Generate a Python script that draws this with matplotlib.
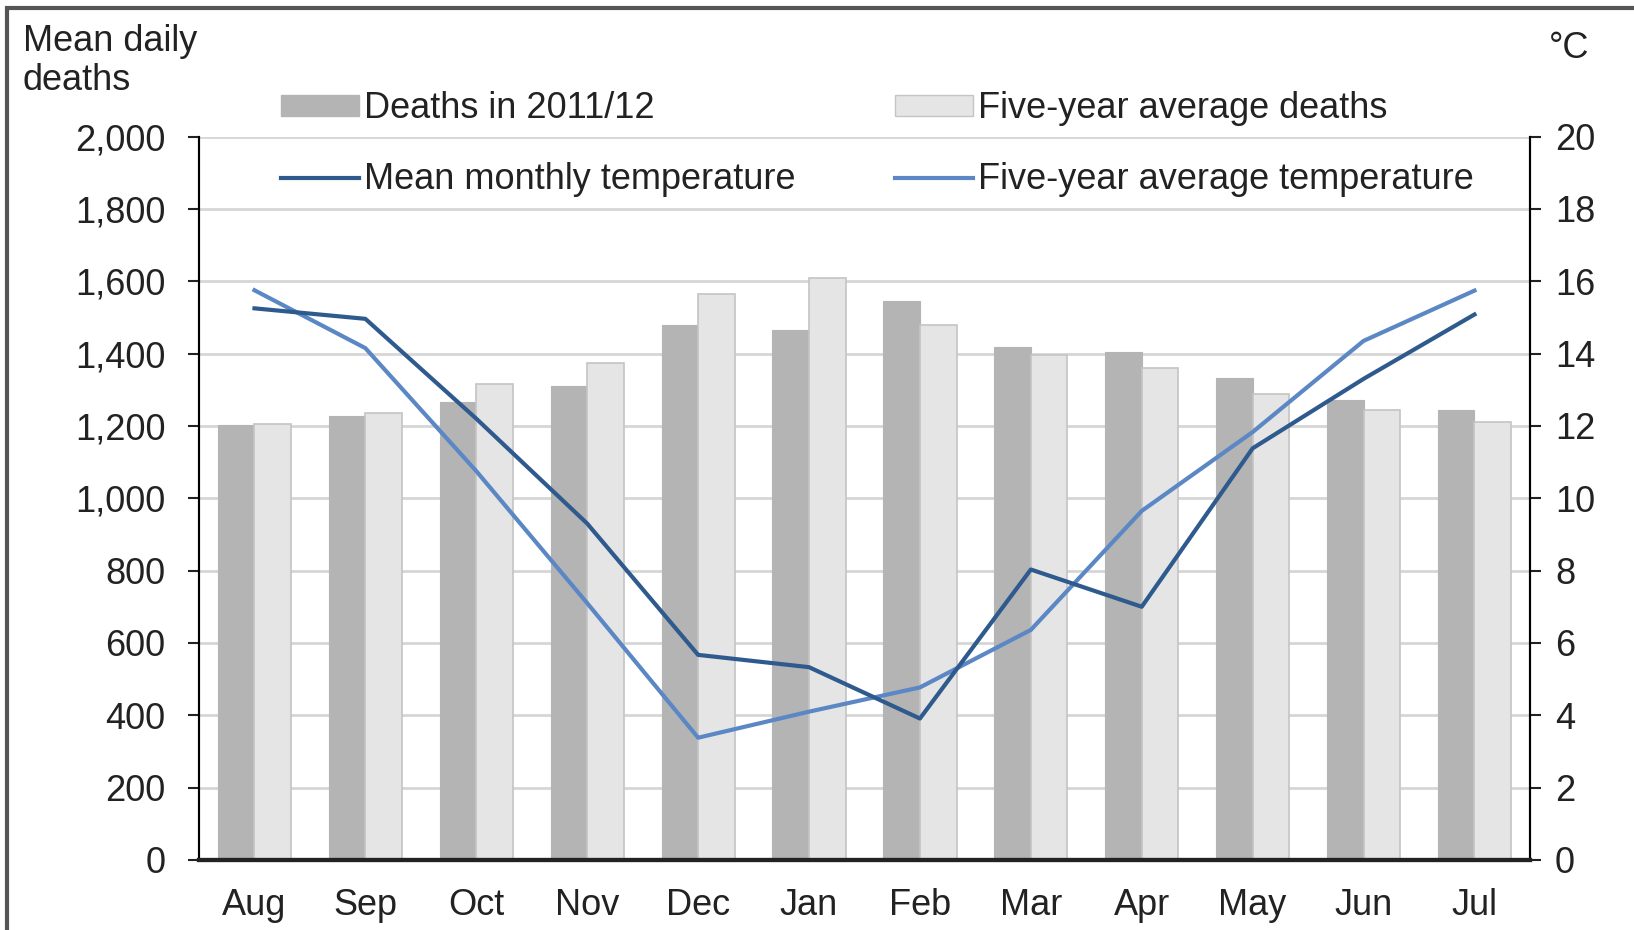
import numpy as np
import matplotlib.pyplot as plt
from matplotlib.patches import Rectangle
from matplotlib.lines import Line2D

months = ["Aug", "Sep", "Oct", "Nov", "Dec", "Jan", "Feb", "Mar", "Apr", "May", "Jun", "Jul"]
deaths_2011 = [1202, 1228, 1267, 1310, 1479, 1465, 1545, 1419, 1403, 1332, 1271, 1244]
deaths_avg = [1205, 1235, 1315, 1373, 1566, 1608, 1479, 1396, 1361, 1288, 1244, 1212]
temp_month = [15.25, 14.96, 12.2, 9.3, 5.67, 5.33, 3.91, 8.03, 7.0, 11.38, 13.3, 15.08]
temp_avg = [15.75, 14.15, 10.75, 7.1, 3.38, 4.1, 4.77, 6.36, 9.65, 11.83, 14.35, 15.74]

plt.rcParams["font.family"] = ["Liberation Sans", "DejaVu Sans"]
fs = 26

fig = plt.figure(figsize=(16.34, 9.3), dpi=100)
ax = fig.add_axes([0.1218, 0.0753, 0.8145, 0.7779])
ax2 = ax.twinx()

x = np.arange(len(months))
w = 0.33
ax.bar(x - w / 2, deaths_2011, w, color="#b4b4b4", edgecolor="#b4b4b4", lw=0.8, zorder=2)
ax.bar(x + w / 2, deaths_avg, w, color="#e4e5e4", edgecolor="#c4c4c4", lw=1.2, zorder=2)

ax2.plot(x, temp_avg, color="#5b88c4", lw=3, zorder=3)
ax2.plot(x, temp_month, color="#2f5a8e", lw=3, zorder=4)

ax.set_xlim(-0.5, 11.5)
ax.set_ylim(0, 2000)
ax.set_yticks(range(0, 2001, 200))
ax.set_yticklabels([f"{v:,}" for v in range(0, 2001, 200)])
ax.yaxis.grid(True, color="#d6d6d6", lw=2)
ax.set_axisbelow(True)
ax.set_xticks(x)
ax.set_xticklabels(months)
ax.tick_params(axis="x", length=0, pad=20, labelsize=fs, colors="#222222")
ax.tick_params(axis="y", direction="out", length=8, width=1.5, pad=16, labelsize=fs, colors="#222222")

ax2.set_ylim(0, 20)
ax2.set_yticks(range(0, 21, 2))
ax2.tick_params(axis="y", direction="out", length=8, width=1.5, pad=10, labelsize=fs, colors="#222222")

for a in (ax, ax2):
    a.spines["top"].set_visible(False)
    a.spines["left"].set_linewidth(1.5)
    a.spines["right"].set_linewidth(1.5)
    a.spines["bottom"].set_linewidth(3)
    a.spines["bottom"].set_color("#222222")

fig.text(0.014, 0.974, "Mean daily\ndeaths", fontsize=fs, va="top", ha="left",
         linespacing=1.15, color="#222222")
fig.text(0.948, 0.948, "°C", fontsize=fs, va="center", ha="left", color="#222222")

handles = [
    Rectangle((0, 0), 1, 1, facecolor="#b4b4b4", edgecolor="#b4b4b4"),
    Line2D([], [], color="#2f5a8e", lw=3),
    Rectangle((0, 0), 1, 1, facecolor="#e4e5e4", edgecolor="#c4c4c4"),
    Line2D([], [], color="#5b88c4", lw=3),
]
labels = ["Deaths in 2011/12", "Mean monthly temperature",
          "Five-year average deaths", "Five-year average temperature"]
fig.legend(handles, labels, ncol=2, loc="upper left", bbox_to_anchor=(0.172, 0.902),
           frameon=False, fontsize=fs, handlelength=2.15, handleheight=0.5,
           handletextpad=0.15, columnspacing=2.75, labelspacing=1.0,
           borderpad=0, borderaxespad=0, labelcolor="#222222")

fig.add_artist(Rectangle((0.004, -0.02), 1.2, 1.011, transform=fig.transFigure,
                         fill=False, edgecolor="#555555", lw=3))

fig.savefig("out.png", dpi=100)
